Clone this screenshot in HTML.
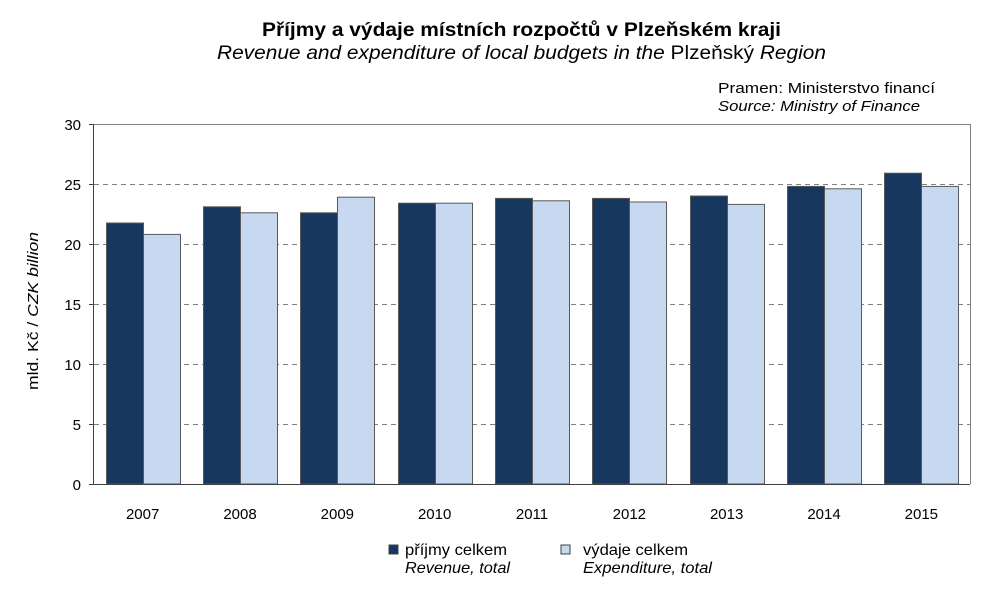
<!DOCTYPE html>
<html><head><meta charset="utf-8"><style>body{margin:0;background:#fff}svg{display:block}</style></head><body>
<svg width="1006" height="590" xmlns="http://www.w3.org/2000/svg" font-family="Liberation Sans, sans-serif">
<rect width="1006" height="590" fill="#fff"/>
<text x="262" y="36" font-size="19" font-weight="bold" textLength="519" lengthAdjust="spacingAndGlyphs">Příjmy a výdaje místních rozpočtů v Plzeňském kraji</text>
<text x="217" y="59" font-size="19" textLength="609" lengthAdjust="spacingAndGlyphs"><tspan font-style="italic">Revenue and expenditure of local budgets in the </tspan>Plzeňský <tspan font-style="italic">Region</tspan></text>
<text x="718" y="93" font-size="15" textLength="217" lengthAdjust="spacingAndGlyphs">Pramen: Ministerstvo  financí</text>
<text x="718" y="111" font-size="15" font-style="italic" textLength="202" lengthAdjust="spacingAndGlyphs">Source: Ministry of Finance</text>
<g stroke="#808080" stroke-dasharray="5,4" stroke-width="1">
<line x1="94" x2="970" y1="424.5" y2="424.5"/><line x1="94" x2="970" y1="364.5" y2="364.5"/><line x1="94" x2="970" y1="304.5" y2="304.5"/><line x1="94" x2="970" y1="244.5" y2="244.5"/><line x1="94" x2="970" y1="184.5" y2="184.5"/>
</g>
<line x1="94" x2="970" y1="124.5" y2="124.5" stroke="#808080"/>
<line x1="970.5" x2="970.5" y1="124" y2="484" stroke="#808080"/>
<g stroke="#595959" stroke-width="1" id="bars"></g>
<line x1="93.5" x2="93.5" y1="124" y2="485" stroke="#404040"/>
<line x1="89" x2="970" y1="484.5" y2="484.5" stroke="#404040"/>
<g stroke="#404040">
<line x1="89" x2="94" y1="124.5" y2="124.5"/><line x1="89" x2="94" y1="184.5" y2="184.5"/><line x1="89" x2="94" y1="244.5" y2="244.5"/><line x1="89" x2="94" y1="304.5" y2="304.5"/><line x1="89" x2="94" y1="364.5" y2="364.5"/><line x1="89" x2="94" y1="424.5" y2="424.5"/>
</g>
<g font-size="15" text-anchor="end">
<text x="81" y="130">30</text><text x="81" y="190">25</text><text x="81" y="250">20</text><text x="81" y="310">15</text><text x="81" y="370">10</text><text x="81" y="430">5</text><text x="81" y="490">0</text>
</g>
<text transform="translate(38,390) rotate(-90)" font-size="15" textLength="158" lengthAdjust="spacingAndGlyphs">mld. Kč / <tspan font-style="italic">CZK billion</tspan></text>
<g font-size="15" text-anchor="middle" id="xl"></g>
<rect x="389" y="545" width="9" height="9" fill="#17375e" stroke="#404040"/>
<text x="405" y="555" font-size="16" textLength="102" lengthAdjust="spacingAndGlyphs">příjmy celkem</text>
<text x="405" y="573" font-size="16" font-style="italic" textLength="105" lengthAdjust="spacingAndGlyphs">Revenue, total</text>
<rect x="561" y="545" width="9" height="9" fill="#c6d9f1" stroke="#404040"/>
<text x="583" y="555" font-size="16" textLength="105" lengthAdjust="spacingAndGlyphs">výdaje celkem</text>
<text x="583" y="573" font-size="16" font-style="italic" textLength="129" lengthAdjust="spacingAndGlyphs">Expenditure, total</text>
<script>
var r=[21.75,23.1,22.6,23.4,23.8,23.8,24.0,24.8,25.9],e=[20.8,22.6,23.9,23.4,23.6,23.5,23.3,24.6,24.8];
var g=document.getElementById('bars'),xl=document.getElementById('xl'),ns='http://www.w3.org/2000/svg',cw=876/9;
for(var i=0;i<9;i++){var x0=94+i*cw+11.5;
[[r[i],'#17375e',x0],[e[i],'#c6d9f1',x0+37]].forEach(function(b){var h=b[0]*12,el=document.createElementNS(ns,'rect');
el.setAttribute('x',Math.round(b[2])+.5);el.setAttribute('y',(484-h).toFixed(1));el.setAttribute('width',37);el.setAttribute('height',h.toFixed(1));el.setAttribute('fill',b[1]);g.appendChild(el);});
var t=document.createElementNS(ns,'text');t.setAttribute('x',94+i*cw+cw/2);t.setAttribute('y',519);t.textContent=2007+i;xl.appendChild(t);}
</script>
</svg>
</body></html>
